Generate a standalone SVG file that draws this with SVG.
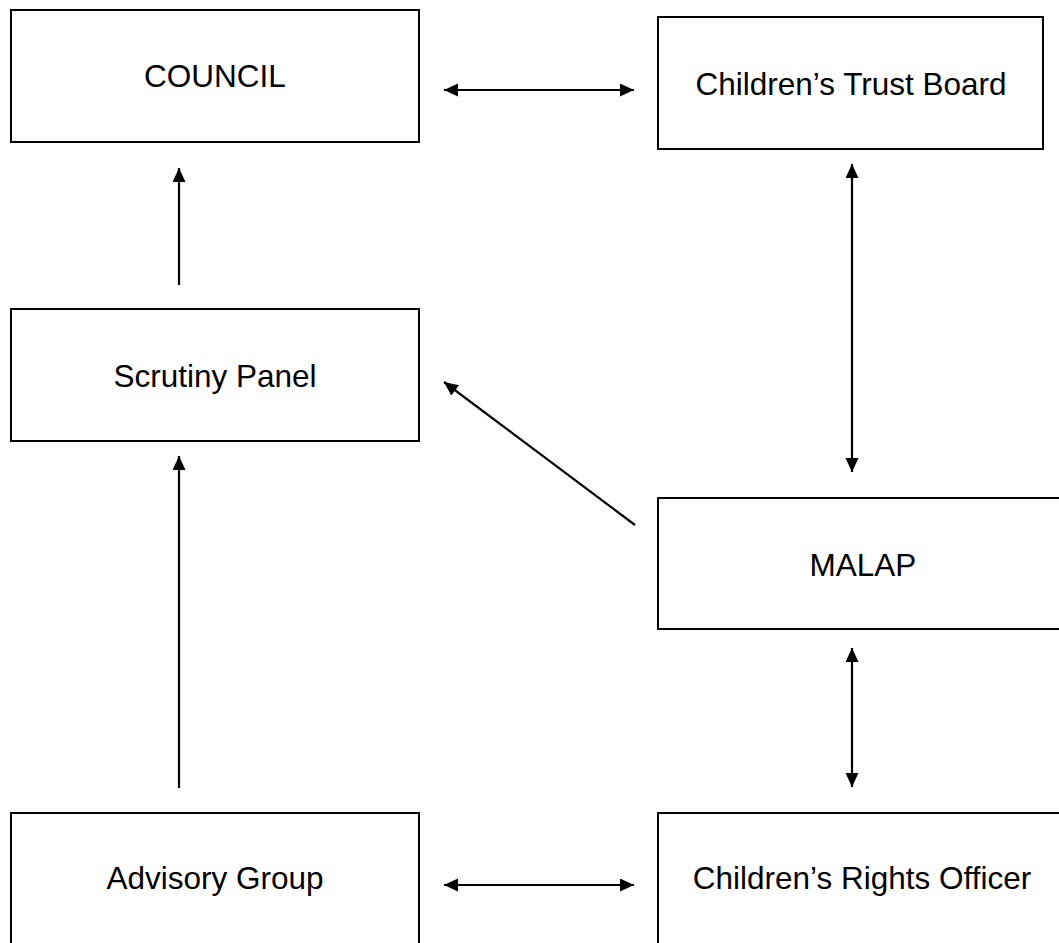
<svg xmlns="http://www.w3.org/2000/svg" width="1059" height="943" viewBox="0 0 1059 943">
<style>
.box{fill:#fff;stroke:#000;stroke-width:2}
.lbl{font-family:"Liberation Sans",Arial,sans-serif;font-size:31.5px;fill:#000;text-anchor:middle}
.ln{stroke:#000;stroke-width:2.2;fill:none}
</style>
<defs>
<marker id="ah" markerUnits="userSpaceOnUse" markerWidth="15" markerHeight="14" refX="14" refY="6.5" orient="auto-start-reverse">
<path d="M0,0 L14,6.5 L0,13 z" fill="#000"/>
</marker>
</defs>
<rect width="1059" height="943" fill="#fff"/>
<g id="council"><rect class="box" x="11" y="10" width="408" height="132"/><text class="lbl" x="215" y="87">COUNCIL</text></g>
<g id="ctb"><rect class="box" x="658" y="17" width="385" height="132"/><text class="lbl" x="851" y="95">Children’s Trust Board</text></g>
<g id="scrutiny"><rect class="box" x="11" y="309" width="408" height="132"/><text class="lbl" x="215" y="387">Scrutiny Panel</text></g>
<g id="malap"><rect class="box" x="658" y="498" width="410" height="131"/><text class="lbl" x="863" y="576">MALAP</text></g>
<g id="advisory"><rect class="box" x="11" y="813" width="408" height="150"/><text class="lbl" x="215" y="889">Advisory Group</text></g>
<g id="cro"><rect class="box" x="658" y="813" width="410" height="150"/><text class="lbl" x="862" y="889">Children’s Rights Officer</text></g>
<g id="connectors">
<line class="ln" x1="444" y1="90" x2="634" y2="90" marker-start="url(#ah)" marker-end="url(#ah)"/>
<line class="ln" x1="179" y1="285" x2="179" y2="168" marker-end="url(#ah)"/>
<line class="ln" x1="179" y1="788" x2="179" y2="456" marker-end="url(#ah)"/>
<line class="ln" x1="852" y1="164" x2="852" y2="472" marker-start="url(#ah)" marker-end="url(#ah)"/>
<line class="ln" x1="852" y1="648" x2="852" y2="787" marker-start="url(#ah)" marker-end="url(#ah)"/>
<line class="ln" x1="444" y1="885" x2="634" y2="885" marker-start="url(#ah)" marker-end="url(#ah)"/>
<line class="ln" x1="635" y1="525" x2="444" y2="382" marker-end="url(#ah)"/>
</g>
</svg>
